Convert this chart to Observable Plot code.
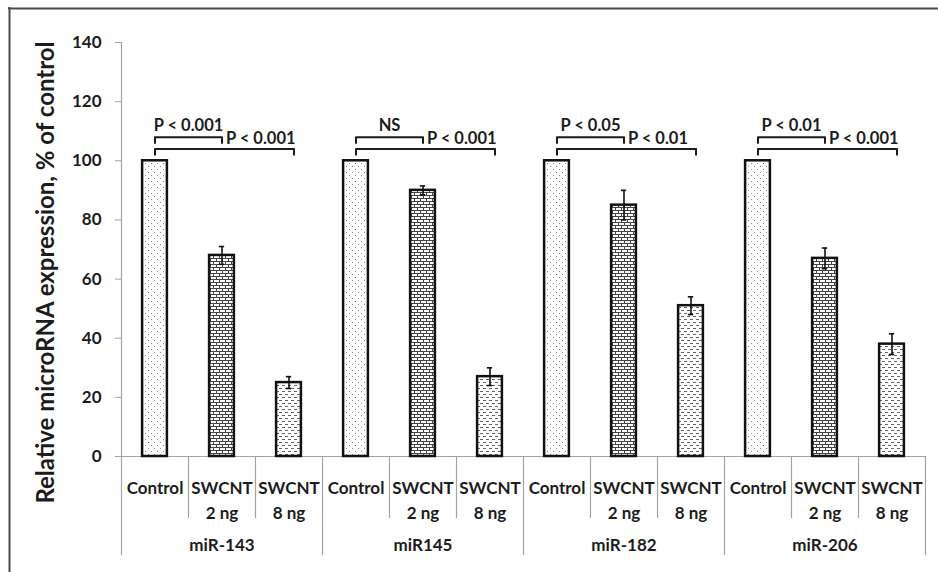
<!DOCTYPE html>
<html><head><meta charset="utf-8">
<script src="https://cdn.jsdelivr.net/npm/d3@7"></script>
<script src="https://cdn.jsdelivr.net/npm/@observablehq/plot@0.6"></script>
<style>html,body{margin:0;padding:0;background:#fff;overflow:hidden;} svg{display:block;overflow:hidden}</style>
</head><body><div id="chart"></div>
<script>
// ---- data ----
const groups = ["miR-143", "miR145", "miR-182", "miR-206"];
const treatments = ["Control", "SWCNT\n2 ng", "SWCNT\n8 ng"];
const controlVals = [100, 100, 100, 100];
const swcnt2Vals = [68, 90, 85, 67];
const swcnt2Err = [3, 1.5, 5, 3.5];
const swcnt8Vals = [25, 27, 51, 38];
const swcnt8Err = [2, 3, 3, 3.5];
const pControlVs2 = ["P < 0.001", "NS", "P < 0.05", "P < 0.01"];
const pControlVs8 = ["P < 0.001", "P < 0.001", "P < 0.01", "P < 0.001"];
const yTicks = [0, 20, 40, 60, 80, 100, 120, 140];
const yTitle = "Relative microRNA expression, % of control";

// ---- derived tables ----
const patterns = ["url(#pDots)", "url(#pBrick)", "url(#pDash)"];
const bars = [];
groups.forEach((g, gi) => {
  const vals = [controlVals[gi], swcnt2Vals[gi], swcnt8Vals[gi]];
  const errs = [null, swcnt2Err[gi], swcnt8Err[gi]];
  treatments.forEach((t, ti) => bars.push({group: g, treatment: t, ti, pos: gi * 3 + ti, value: vals[ti], err: errs[ti]}));
});
const errBars = bars.filter(d => d.err != null);
const half = 0.185, cap = 0.04;

const shortLevel = 108, longLevel = 104, drop = 2, longExt = 0.075;
const bracketPts = [];
const shortLabels = [], longLabels = [];
groups.forEach((g, gi) => {
  const a = gi * 3, b = gi * 3 + 1, c = gi * 3 + 2 + longExt;
  [[a, shortLevel - drop], [a, shortLevel], [b, shortLevel], [b, shortLevel - drop]]
    .forEach(([x, y]) => bracketPts.push({id: g + "-s", x, y}));
  [[a, longLevel - drop], [a, longLevel], [c, longLevel], [c, longLevel - drop]]
    .forEach(([x, y]) => bracketPts.push({id: g + "-l", x, y}));
  shortLabels.push({x: a + 0.5, y: shortLevel, text: pControlVs2[gi]});
  longLabels.push({x: b, y: longLevel, text: pControlVs8[gi]});
});
const groupPos = groups.map((g, gi) => gi * 3 + 1);
const groupDividers = groups.map((g, gi) => gi * 3 - 0.5).concat([groups.length * 3 - 0.5]);
const catDividers = bars.filter(d => d.ti > 0).map(d => d.pos - 0.5);
const yMax = yTicks[yTicks.length - 1];

const axisGray = "#a3a3a3", ink = "#1c1c1c", border = "#4a4a4a";

const chart = Plot.plot({
  width: 938, height: 572,
  marginLeft: 121, marginRight: 13, marginTop: 42, marginBottom: 116,
  style: {fontFamily: "Lato, 'Open Sans', sans-serif", fontWeight: "bold", fontSize: "17px", color: ink, background: "#fff"},
  x: {domain: [-0.5, groups.length * 3 - 0.5], axis: null},
  y: {domain: [0, yMax], axis: null},
  color: {type: "identity"},
  marks: [
    // outer picture border (top and left edges only)
    Plot.ruleY([yMax], {stroke: border, strokeWidth: 2, dy: -34, insetLeft: -113, insetRight: -40}),
    Plot.ruleX([-0.5], {stroke: border, strokeWidth: 2, dx: -112, insetTop: -35, insetBottom: -140}),
    Plot.axisY({ticks: yTicks, tickSize: 6, tickPadding: 14, stroke: axisGray, fill: ink, fontSize: 17, label: null}),
    Plot.ruleX([-0.5], {stroke: axisGray, strokeWidth: 1.2}),
    Plot.ruleY([0], {stroke: axisGray, strokeWidth: 1.2}),
    Plot.axisX({ticks: groupDividers, tickSize: 99, tickFormat: () => "", stroke: axisGray, strokeWidth: 1.2, label: null}),
    Plot.axisX({ticks: catDividers, tickSize: 62, tickFormat: () => "", stroke: axisGray, strokeWidth: 1.2, label: null}),
    Plot.text(bars, {x: "pos", text: "treatment", frameAnchor: "bottom", dy: 19, lineAnchor: "top", lineHeight: 1.5, fontSize: 17, fill: ink}),
    Plot.text(groups, {x: (d, i) => groupPos[i], text: d => d, frameAnchor: "bottom", dy: 82, lineAnchor: "top", fontSize: 17, fill: ink}),
    Plot.text([yTitle], {frameAnchor: "left", rotate: -90, dx: -75, dy: 23, fontSize: 24, textAnchor: "middle", lineAnchor: "middle", fill: ink}),
    Plot.rect(bars, {x1: d => d.pos - half, x2: d => d.pos + half, y1: 0, y2: "value", fill: d => patterns[d.ti], stroke: "#111", strokeWidth: 2.5}),
    Plot.ruleX(errBars, {x: "pos", y1: d => d.value - d.err, y2: d => d.value + d.err, stroke: "#111", strokeWidth: 1.6}),
    Plot.ruleY(errBars, {y: d => d.value + d.err, x1: d => d.pos - cap, x2: d => d.pos + cap, stroke: "#111", strokeWidth: 1.6}),
    Plot.ruleY(errBars, {y: d => d.value - d.err, x1: d => d.pos - cap, x2: d => d.pos + cap, stroke: "#111", strokeWidth: 1.6}),
    Plot.line(bracketPts, {x: "x", y: "y", z: "id", stroke: ink, strokeWidth: 2}),
    Plot.text(shortLabels, {x: "x", y: "y", text: "text", dy: -6, textAnchor: "middle", lineAnchor: "bottom", fontSize: 16.5, fill: ink}),
    Plot.text(longLabels, {x: "x", y: "y", text: "text", dx: 4, dy: -5, textAnchor: "start", lineAnchor: "bottom", fontSize: 16.5, fill: ink})
  ]
});

d3.select(chart).insert("defs", ":first-child").html(`
  <pattern id="pDots" width="6" height="6" patternUnits="userSpaceOnUse">
    <rect width="6" height="6" fill="#fff"/>
    <rect x="1" y="1" width="1" height="1" fill="#8a8a8a"/>
    <rect x="4" y="4" width="1" height="1" fill="#8a8a8a"/>
  </pattern>
  <pattern id="pBrick" width="6" height="6" patternUnits="userSpaceOnUse">
    <rect width="6" height="6" fill="#fff"/>
    <path d="M0 0.5H6M0 3.5H6M0.5 0V3M3.5 3V6" stroke="#444" stroke-width="1" fill="none"/>
  </pattern>
  <pattern id="pDash" width="6" height="6" patternUnits="userSpaceOnUse">
    <rect width="6" height="6" fill="#fff"/>
    <rect x="0" y="1" width="3" height="1" fill="#666"/>
    <rect x="3" y="4" width="3" height="1" fill="#666"/>
  </pattern>`);

document.getElementById("chart").appendChild(chart);
</script>
</body></html>
